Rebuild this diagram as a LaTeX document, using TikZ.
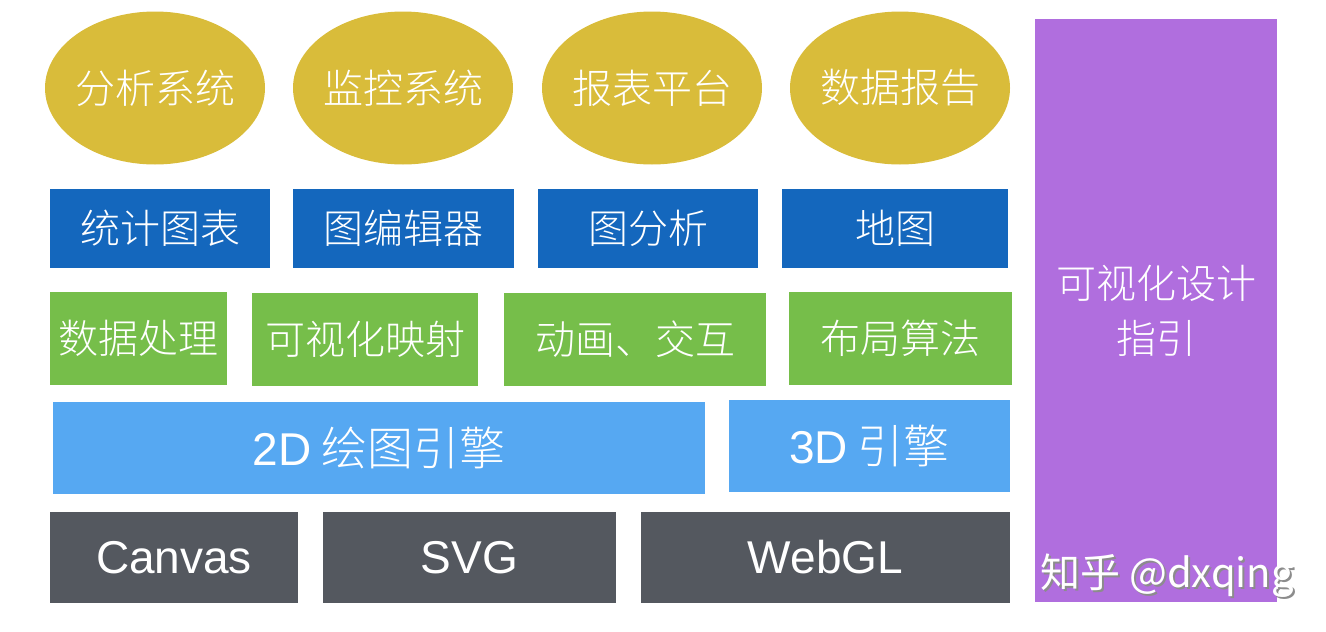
\documentclass[tikz,border=0pt]{standalone}
\usepackage{fontspec}
\setmainfont{Liberation Sans}
\IfFontExistsTF{Noto Sans CJK SC Light}%
  {\newfontfamily\cjk{Noto Sans CJK SC Light}}%
  {\newfontfamily\cjk{Noto Sans CJK SC}}
\newfontfamily\cjkmark{Noto Sans CJK SC}
\usepackage{tikz}
\usetikzlibrary{shapes.geometric}
\definecolor{visgold}{HTML}{D9BC3A}
\definecolor{visblue}{HTML}{1467BD}
\definecolor{visgreen}{HTML}{76BE4A}
\definecolor{vissky}{HTML}{56A8F2}
\definecolor{visgray}{HTML}{54585F}
\definecolor{vispurple}{HTML}{B06EDE}
\tikzset{%
  visbox/.style={%
    rectangle,
    inner sep=0pt,
    outer sep=0pt,
    text=white,
    align=center,
    font=\cjk\fontsize{40}{55}\selectfont
  },
  visapp/.style={%
    visbox,
    ellipse,
    fill=visgold,
    inner xsep=-2.5pt,
    minimum width=220pt,
    minimum height=153pt
  },
  viscomp/.style={visbox,fill=visblue,minimum height=79pt},
  visalgo/.style={visbox,fill=visgreen,minimum height=93pt},
  visengine/.style={%
    visbox,
    fill=vissky,
    minimum height=92pt,
    font=\cjk\fontsize{46}{55}\selectfont
  },
  visrender/.style={%
    visbox,
    fill=visgray,
    minimum height=91pt,
    font=\fontsize{46}{55}\selectfont
  },
  visguide/.style={visbox,fill=vispurple,minimum width=242pt,minimum height=583pt},
  vismark/.style={anchor=base west,inner sep=0pt,font=\cjkmark\fontsize{40}{48}\selectfont}
}

\begin{document}
\begin{tikzpicture}[x=1pt,y=-1pt]
    \useasboundingbox (0,0) rectangle (1326,632);

    % applications
    \node[visapp] (analysis) at (155,88) {分析系统};
    \node[visapp] (monitor) at (403,88) {监控系统};
    \node[visapp] (report) at (652,88) {报表平台};
    \node[visapp] (datarep) at (900,88) {数据报告};

    % components
    \node[viscomp,minimum width=220pt] (chart) at (160,228.5) {统计图表};
    \node[viscomp,minimum width=221pt] (graphedit) at (403.5,228.5) {图编辑器};
    \node[viscomp,minimum width=220pt] (graphana) at (648,228.5) {图分析};
    \node[viscomp,minimum width=226pt] (geomap) at (895,228.5) {地图};

    % algorithms
    \node[visalgo,minimum width=177pt] (dataproc) at (138.5,338.5) {数据处理};
    \node[visalgo,minimum width=226pt] (vismap) at (365,339) {可视化映射};
    \node[visalgo,minimum width=262pt] (anim) at (635,339) {动画、交互};
    \node[visalgo,minimum width=223pt] (layout) at (900.5,338.5) {布局算法};

    % engines
    \node[visengine,minimum width=652pt] (twod) at (379,448) {{\rmfamily 2D} 绘图引擎};
    \node[visengine,minimum width=281pt] (threed) at (869.5,445.5) {{\rmfamily 3D} 引擎};

    % renderers
    \node[visrender,minimum width=248pt] (canvas) at (174,557.5) {Canvas};
    \node[visrender,minimum width=293pt] (svg) at (469.5,557.5) {SVG};
    \node[visrender,minimum width=369pt] (webgl) at (825.5,557.5) {WebGL};

    % design guide
    \node[visguide] (guide) at (1156,310.5) {可视化设计\\指引};

    % watermark
    \node[vismark,text=black!45] (markshadow) at (1042,589) {知乎 @dxqing};
    \node[vismark,text=white] (mark) at (1040,587) {知乎 @dxqing};
  \end{tikzpicture}
\end{document}
